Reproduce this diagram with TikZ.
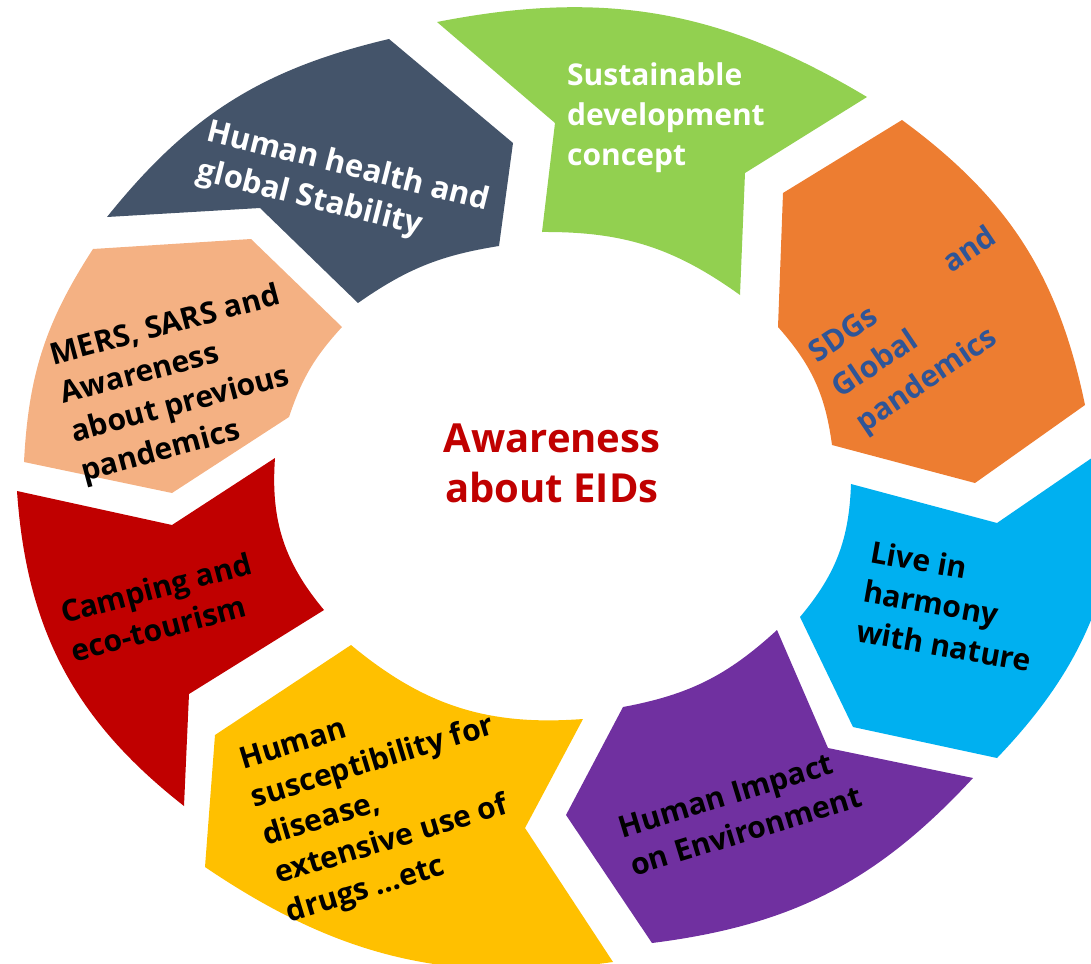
\documentclass[tikz,border=0pt]{standalone}
\usepackage{fontspec}
\setmainfont{Open Sans}
\definecolor{slate}{HTML}{44546A}
\definecolor{leaf}{HTML}{92D050}
\definecolor{tangerine}{HTML}{ED7D31}
\definecolor{sky}{HTML}{00B0F0}
\definecolor{violet}{HTML}{7030A0}
\definecolor{amber}{HTML}{FFC000}
\definecolor{crimson}{HTML}{C00000}
\definecolor{peach}{HTML}{F4B183}
\definecolor{navytext}{HTML}{2F5597}
\begin{document}
\begin{tikzpicture}[x=1pt, y=-1pt,
   every node/.style={font=\bfseries\fontsize{30}{40}\selectfont, align=left, inner sep=0pt},
   centre/.style={font=\bfseries\fontsize{40}{50}\selectfont, align=center, text=crimson}]
\path[use as bounding box, clip] (0,0) rectangle (1091,963);
\fill[slate]     (107,217) to[bend left=19] (389,39) -- (513,143) -- (499,246)
                 to[bend right=13] (358,303) -- (260,208) -- cycle;
\fill[leaf]      (437,22) to[bend left=21] (867,97) -- (745,173) -- (740,295)
                 to[bend right=18] (542,232) -- (555,123) -- cycle;
\fill[tangerine] (902,120) to[bend left=21] (1085,405) -- (975,483) -- (832,445)
                 to[bend right=17] (778,327) -- (783,193) -- cycle;
\fill[sky]       (851,484) -- (997,523) -- (1118,440) to[bend left=23] (997,758)
                 -- (853,727) -- (800,617) to[bend right=19] cycle;
\fill[violet]    (777,630) -- (828,748) -- (973,778) to[bend left=20] (652,943)
                 -- (566,815) -- (623,707) to[bend right=16] cycle;
\fill[amber]     (583,719) -- (525,828) -- (613,962) to[bend left=21] (205,867)
                 -- (215,735) -- (351,645) to[bend right=22] cycle;
\fill[crimson]   (324,610) -- (189,694) -- (184,806) to[bend left=24] (17,491)
                 -- (172,525) -- (275,458) to[bend right=22] cycle;
\fill[peach]     (289,417) -- (172,493) -- (24,462) to[bend left=15] (93,249)
                 -- (251,239) -- (342,327) to[bend right=12] cycle;
\node[rotate=-14, text=white, font=\bfseries\fontsize{31}{40}\selectfont] (health) at (343,187) {Human health and\\global Stability};
\node[anchor=west, text=white] (sustain) at (567,118) {Sustainable\\development\\concept};
\node[rotate=34, text=navytext, font=\bfseries\fontsize{30}{42}\selectfont] (sdgs) at (927,331) {SDGs\hspace{86pt}and\\Global\\pandemics};
\node[rotate=-10] (harmony) at (951,606) {Live in\\harmony\\with nature};
\node[rotate=17] (impact) at (740,812) {Human Impact\\on Environment};
\node[rotate=17] (suscept) at (385,802) {Human\\susceptibility for\\disease,\\extensive use of\\drugs …etc};
\node[rotate=15] (camping) at (161,607) {Camping and\\eco-tourism};
\node[rotate=15] (mers) at (181,385) {MERS, SARS and\\Awareness\\about previous\\pandemics};
\node[centre] (eids) at (552,463) {Awareness\\about EIDs};
\end{tikzpicture}
\end{document}
